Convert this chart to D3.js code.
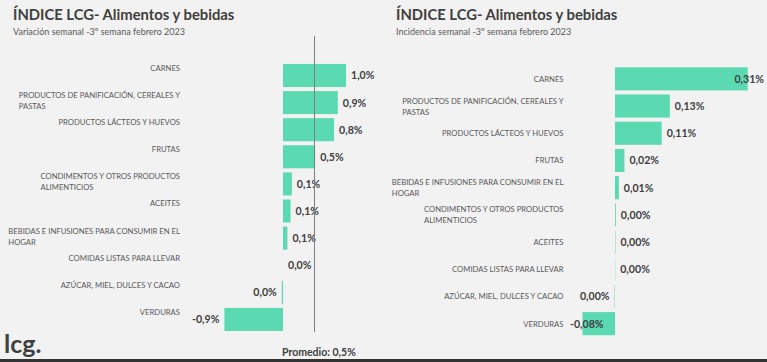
<!DOCTYPE html>
<meta charset="utf-8">
<title>Índice LCG - Alimentos y bebidas</title>
<script src="https://cdn.jsdelivr.net/npm/d3@7"></script>
<style>
  body { margin: 0; background: #f2f2f2; }
  svg { display: block; font-family: Lato, "Open Sans", sans-serif; }
</style>
<body>
<div id="chart"></div>
<script>

// datos: variación semanal (%)
var variacionCats = ["CARNES", "PRODUCTOS DE PANIFICACIÓN, CEREALES Y PASTAS", "PRODUCTOS LÁCTEOS Y HUEVOS",
  "FRUTAS", "CONDIMENTOS Y OTROS PRODUCTOS ALIMENTICIOS", "ACEITES",
  "BEBIDAS E INFUSIONES PARA CONSUMIR EN EL HOGAR", "COMIDAS LISTAS PARA LLEVAR",
  "AZÚCAR, MIEL, DULCES Y CACAO", "VERDURAS"];
var variacionVals = [1.0, 0.87, 0.81, 0.51, 0.14, 0.12, 0.07, 0.0, -0.02, -0.93];
var promedio = 0.5;

// datos: incidencia semanal (p.p.)
var incidenciaCats = ["CARNES", "PRODUCTOS DE PANIFICACIÓN, CEREALES Y PASTAS", "PRODUCTOS LÁCTEOS Y HUEVOS",
  "FRUTAS", "BEBIDAS E INFUSIONES PARA CONSUMIR EN EL HOGAR", "CONDIMENTOS Y OTROS PRODUCTOS ALIMENTICIOS",
  "ACEITES", "COMIDAS LISTAS PARA LLEVAR", "AZÚCAR, MIEL, DULCES Y CACAO", "VERDURAS"];
var incidenciaVals = [0.31, 0.128, 0.109, 0.022, 0.009, 0.002, 0.001, 0.0005, -0.001, -0.076];

var titulo = "ÍNDICE LCG- Alimentos y bebidas";
var subVariacion = "Variación semanal -3º semana febrero 2023";
var subIncidencia = "Incidencia semanal -3º semana febrero 2023";

var width = 767, height = 362;
var barColor = "#5bd9b1";

var svg = d3.select("#chart").append("svg")
    .attr("width", width)
    .attr("height", height);

svg.append("rect")
    .attr("width", width)
    .attr("height", height)
    .attr("fill", "#f2f2f2");

function fmt(v, dec) {
  var s = Math.abs(v).toFixed(dec);
  var neg = v < 0 && +s !== 0;
  return (neg ? "-" : "") + s.replace(".", ",") + "%";
}

// split a label into lines no wider than maxW
function wrap(textSel, str, maxW) {
  var words = str.split(" "), lines = [], line = "";
  words.forEach(function(w) {
    var test = line ? line + " " + w : w;
    textSel.text(test);
    if (textSel.node().getComputedTextLength() > maxW && line) {
      lines.push(line);
      line = w;
    } else {
      line = test;
    }
  });
  lines.push(line);
  textSel.text(null);
  return lines;
}

function panel(o) {
  var g = svg.append("g");

  g.append("text")
      .attr("x", o.titleX).attr("y", 20)
      .attr("fill", "#404040")
      .style("font-size", "14.8px")
      .style("font-weight", "bold")
      .text(titulo);

  g.append("text")
      .attr("x", o.titleX).attr("y", 34.5)
      .attr("fill", "#595959")
      .style("font-size", "9px")
      .text(o.subtitle);

  var y = d3.scaleBand()
      .domain(o.cats)
      .range(o.yRange)
      .padding(0.15);

  var x = o.x;

  var data = o.cats.map(function(c, i) { return {cat: c, v: o.vals[i]}; });

  g.selectAll(".bar")
    .data(data)
    .enter().append("rect")
      .attr("class", "bar")
      .attr("x", function(d) { return x(Math.min(0, d.v)); })
      .attr("y", function(d) { return y(d.cat); })
      .attr("width", function(d) { return Math.abs(x(d.v) - x(0)); })
      .attr("height", y.bandwidth())
      .attr("fill", barColor);

  // category labels: block left-aligned, right edge at labelX
  data.forEach(function(d) {
    var t = g.append("text")
        .attr("fill", "#595959")
        .style("font-size", "7.7px");
    var lines = wrap(t, d.cat, 176);
    var maxW = 0;
    lines.forEach(function(l) {
      t.text(l);
      maxW = Math.max(maxW, t.node().getComputedTextLength());
    });
    t.text(null);
    var first;
    if (o.labelTop) {
      first = y(d.cat) + 7;
    } else {
      first = y(d.cat) + y.bandwidth() / 2 + 3 - (lines.length - 1) * 5.5;
    }
    lines.forEach(function(l, i) {
      t.append("tspan")
          .attr("x", o.labelX - maxW)
          .attr("y", first + i * 11)
          .text(l);
    });
  });

  // value labels
  data.forEach(function(d) {
    var t = g.append("text")
        .attr("fill", "#404040")
        .style("font-size", "10.6px")
        .style("font-weight", "bold")
        .attr("y", y(d.cat) + y.bandwidth() / 2 + 4)
        .text(fmt(d.v, o.dec));
    var w = t.node().getComputedTextLength();
    var lx;
    if (d.v >= 0) {
      lx = x(d.v) + 5;
      if (lx + w > o.labelMax) lx = o.labelMax - w;
    } else {
      lx = x(d.v) - 5 - w;
      if (lx < o.labelMin) lx = o.labelMin;
    }
    t.attr("x", lx);
  });

  return {g: g, x: x, y: y};
}

var left = panel({
  titleX: 13,
  subtitle: subVariacion,
  cats: variacionCats,
  vals: variacionVals,
  x: d3.scaleLinear().domain([-1, 1]).range([220, 346]),
  yRange: [59.9, 335],
  labelX: 180,
  labelTop: true,
  dec: 1,
  labelMin: 190,
  labelMax: 378
});

var right = panel({
  titleX: 396,
  subtitle: subIncidencia,
  cats: incidenciaCats,
  vals: incidenciaVals,
  x: d3.scaleLinear().domain([-0.1, 0.31]).range([572.2, 747.7]),
  yRange: [63.2, 339.3],
  labelX: 563.5,
  labelTop: false,
  dec: 2,
  labelMin: 570,
  labelMax: 764
});

// línea de promedio
left.g.append("line")
    .attr("x1", left.x(promedio)).attr("x2", left.x(promedio))
    .attr("y1", 36).attr("y2", 332)
    .attr("stroke", "#7f7f7f")
    .attr("stroke-width", 1);

svg.append("text")
    .attr("x", 282).attr("y", 356)
    .attr("fill", "#404040")
    .style("font-size", "10.5px")
    .style("font-weight", "bold")
    .text("Promedio: " + fmt(promedio, 1));

// logo
svg.append("text")
    .attr("x", 4).attr("y", 353)
    .attr("fill", "#404040")
    .style("font-size", "25px")
    .style("font-weight", "bold")
    .text("lcg.");

svg.append("rect")
    .attr("x", 0).attr("y", 359)
    .attr("width", width).attr("height", 3)
    .attr("fill", "#333333");

</script>
</body>
